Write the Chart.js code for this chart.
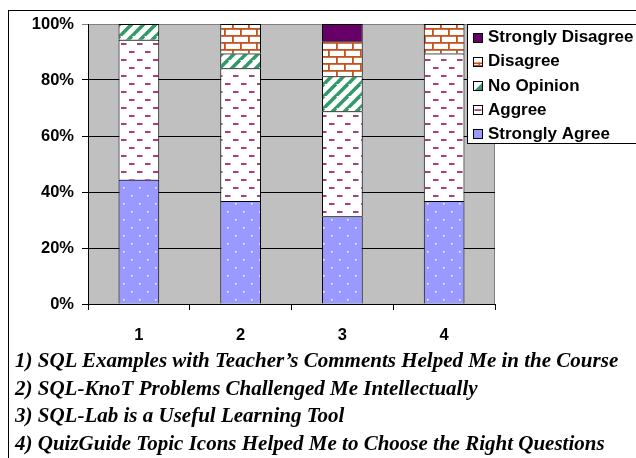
<!DOCTYPE html>
<html><head><meta charset="utf-8">
<script src="https://cdn.jsdelivr.net/npm/chart.js@4/dist/chart.umd.min.js"></script>
<style>
html,body{margin:0;padding:0;background:#fff;}
#wrap{position:relative;width:636px;height:458px;overflow:hidden;background:#fff;}
#frame{position:absolute;left:8px;top:10px;width:700px;height:500px;border-left:1px solid #000;border-top:1px solid #000;}
canvas{position:absolute;left:0;top:0;}
#cap{position:absolute;left:15px;top:347px;font-family:"Liberation Serif","Times New Roman",serif;font-weight:bold;font-style:italic;font-size:21px;line-height:27.6px;white-space:nowrap;color:#000;}
</style></head>
<body><div id="wrap"><div id="frame"></div><canvas id="c" width="636" height="458"></canvas><div id="cap"></div></div>
<script>
// ---- data ----
const categories = ['1', '2', '3', '4'];
const seriesNames = ['Strongly Agree', 'Aggree', 'No Opinion', 'Disagree', 'Strongly Disagree'];
const stronglyAgree    = [44.4, 36.8, 31.3, 36.8];
const agree            = [50.0, 47.4, 37.5, 52.7];
const noOpinion        = [5.6, 5.3, 12.5, 0];
const disagree         = [0, 10.5, 12.5, 10.5];
const stronglyDisagree = [0, 0, 6.2, 0];
const yTicks = [0, 20, 40, 60, 80, 100];
const captions = [
  '1) SQL Examples with Teacher\u2019s Comments Helped Me in the Course',
  '2) SQL-KnoT Problems Challenged Me Intellectually',
  '3) SQL-Lab is a Useful Learning Tool',
  '4) QuizGuide Topic Icons Helped Me to Choose the Right Questions'
];
const seriesData = [stronglyAgree, agree, noOpinion, disagree, stronglyDisagree];

document.getElementById('cap').innerHTML = captions.map(t => '<div>' + t.replace(/&/g,'&amp;') + '</div>').join('');

// ---- patterns ----
function tile(w, h, draw) {
  const c = document.createElement('canvas'); c.width = w; c.height = h;
  const g = c.getContext('2d'); draw(g, w, h);
  return document.getElementById('c').getContext('2d').createPattern(c, 'repeat');
}
const patDots = tile(16, 16, (g) => {
  g.fillStyle = '#9999FF'; g.fillRect(0, 0, 16, 16);
  g.fillStyle = 'rgba(255,255,255,0.9)';
  g.fillRect(3, 3, 1.6, 1.6); g.fillRect(11, 11, 1.6, 1.6);
});
const patDash = tile(16, 16, (g) => {
  g.fillStyle = '#fff'; g.fillRect(0, 0, 16, 16);
  g.fillStyle = '#A3437A';
  g.fillRect(1, 3, 5.5, 2); g.fillRect(9, 11, 5.5, 2);
});
const patStripe = tile(12, 12, (g) => {
  g.fillStyle = '#fff'; g.fillRect(0, 0, 12, 12);
  g.strokeStyle = '#33996A'; g.lineWidth = 3.6;
  [[-12, 12, 0, 0], [0, 12, 12, 0], [0, 24, 24, 0]].forEach(([a, b, c, d]) => {
    g.beginPath(); g.moveTo(a, b); g.lineTo(c, d); g.stroke();
  });
});
const patBrick = tile(16, 14, (g) => {
  g.fillStyle = '#fff'; g.fillRect(0, 0, 16, 14);
  g.fillStyle = '#C25420';
  g.fillRect(0, 0, 16, 1.8); g.fillRect(0, 7, 16, 1.8);
  g.fillRect(0, 0, 1.8, 7); g.fillRect(8, 7, 1.8, 7);
});
const fills = [patDots, patDash, patStripe, patBrick, '#660066'];

// ---- plugins ----
const plotBg = {
  id: 'plotBg',
  beforeDraw(chart) {
    const { ctx, chartArea: a } = chart;
    ctx.save(); ctx.fillStyle = '#C0C0C0';
    ctx.fillRect(a.left, a.top, a.right - a.left, a.bottom - a.top);
    ctx.strokeStyle = '#808080'; ctx.lineWidth = 1;
    ctx.beginPath(); ctx.moveTo(a.right - 0.5, a.top); ctx.lineTo(a.right - 0.5, a.bottom); ctx.stroke();
    ctx.restore();
  }
};
function drawMarker(ctx, i, x, y, s) {
  ctx.save();
  if (i === 4) { ctx.fillStyle = '#660066'; ctx.fillRect(x, y, s, s); }
  else if (i === 0) { ctx.fillStyle = '#9999FF'; ctx.fillRect(x, y, s, s); }
  else {
    ctx.fillStyle = '#fff'; ctx.fillRect(x, y, s, s);
    if (i === 3) { ctx.fillStyle = '#C25420'; ctx.fillRect(x, y + s * 0.55, s, 1.6); ctx.fillRect(x + s * 0.55, y + s * 0.55, 1.5, s * 0.45); ctx.fillRect(x, y + s - 2, s, 2); }
    if (i === 2) { ctx.fillStyle = '#33996A'; ctx.beginPath(); ctx.moveTo(x + s, y + 1); ctx.lineTo(x + s, y + s); ctx.lineTo(x + 1, y + s); ctx.closePath(); ctx.fill(); }
    if (i === 1) { ctx.fillStyle = '#A3437A'; ctx.fillRect(x + 1.5, y + s / 2 - 0.8, s - 3, 1.8); }
  }
  ctx.strokeStyle = '#000'; ctx.lineWidth = 1;
  ctx.strokeRect(x + 0.5, y + 0.5, s - 1, s - 1);
  ctx.restore();
}
const legendBox = {
  id: 'legendBox',
  afterDraw(chart) {
    const ctx = chart.ctx;
    ctx.save();
    ctx.fillStyle = '#fff'; ctx.fillRect(467, 24, 200, 119);
    ctx.strokeStyle = '#000'; ctx.lineWidth = 1; ctx.strokeRect(467.5, 24.5, 200, 119);
    ctx.font = 'bold 17px "Liberation Sans", Arial, sans-serif';
    ctx.textBaseline = 'middle'; ctx.fillStyle = '#000';
    const ds = chart.data.datasets;
    for (let k = 0; k < ds.length; k++) {
      const i = ds.length - 1 - k;
      const cy = 37 + k * 24.2;
      drawMarker(ctx, i, 473, Math.round(cy - 4.5), 10);
      ctx.fillText(ds[i].label, 488, cy + 0.5);
    }
    ctx.restore();
  }
};

const tickFont = { family: '"Liberation Sans", Arial, sans-serif', weight: 'bold', size: 16.5 };

new Chart(document.getElementById('c'), {
  type: 'bar',
  data: {
    labels: categories,
    datasets: seriesNames.map((n, i) => ({
      label: n, data: seriesData[i], backgroundColor: fills[i],
      borderColor: '#000', borderWidth: (c) => (c.raw ? 1 : 0),
      barPercentage: 0.4, categoryPercentage: 1
    }))
  },
  options: {
    responsive: false, animation: false, devicePixelRatio: 1,
    layout: { padding: { left: 0, top: 24, right: 141, bottom: 0 } },
    plugins: { legend: { display: false }, tooltip: { enabled: false } },
    scales: {
      x: {
        stacked: true,
        grid: { offset: true, drawOnChartArea: false, drawTicks: true, tickLength: 6, color: '#000' },
        border: { color: '#000' },
        ticks: { color: '#000', font: tickFont, padding: 16, maxRotation: 0 },
        afterFit: (s) => { s.height = 154; }
      },
      y: {
        stacked: true, min: 0, max: 100,
        grid: { color: (c) => (c.tick && c.tick.value === 100 ? '#808080' : '#000'), tickLength: 6 },
        border: { color: '#000' },
        ticks: { color: '#000', font: tickFont, padding: 8, callback: (v) => v + '%' },
        afterBuildTicks: (s) => { s.ticks = yTicks.map((v) => ({ value: v })); },
        afterFit: (s) => { s.width = 88; }
      }
    }
  },
  plugins: [plotBg, legendBox]
});
</script>
</body></html>
